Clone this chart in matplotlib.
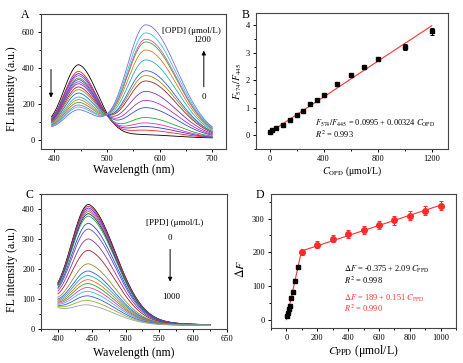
import numpy as np
import matplotlib.pyplot as plt
from matplotlib.ticker import MultipleLocator

plt.rcParams['font.family'] = 'Liberation Serif'
plt.rcParams['mathtext.fontset'] = 'stix'
plt.rcParams['font.size'] = 6

# ---- data ----
# panel A: OPD spectra, peak heights at 445 nm and 574 nm (one entry per curve)
opd_peak445 = [418, 381, 368, 357, 344, 335, 323, 312, 294, 279, 260, 238, 223, 208, 193, 182, 167]
opd_peak574 = [30, 55, 75, 95, 125, 180, 220, 270, 328, 358, 385, 445, 500, 545, 560, 595, 640]
opd_colors = ['#000000', '#ff2020', '#3030e0', '#d030d0', '#30a030', '#3050c0', '#b030c0', '#8030b0',
              '#a02030', '#909020', '#3060d0', '#20b0c0', '#d08020', '#40a040', '#e050a0', '#30c8d8', '#7070e0']

# panel B: ratio vs OPD
opd_conc = [0, 20, 50, 100, 150, 200, 250, 300, 350, 400, 500, 600, 700, 800, 1000, 1200]
ratio = [0.12, 0.19, 0.26, 0.38, 0.56, 0.72, 0.90, 1.13, 1.29, 1.45, 1.86, 2.20, 2.48, 2.77, 3.22, 3.78]
ratio_err = [0.04, 0.04, 0.04, 0.04, 0.05, 0.05, 0.05, 0.05, 0.05, 0.05, 0.07, 0.08, 0.08, 0.08, 0.11, 0.13]

# panel C: PPD spectra, peak heights
ppd_peak = [415, 409, 403, 397, 391, 384, 376, 352, 333, 300, 262, 217, 193, 178, 164, 151, 138, 125, 110, 95, 80]
ppd_colors = ['#000000', '#e02020', '#2a2ae0', '#d030d0', '#808020', '#202080', '#20a040', '#4040c0',
              '#5050d0', '#9030a0', '#a02020', '#909030', '#3060d0', '#20a0c0', '#e07020', '#30a040',
              '#e040a0', '#30c0d0', '#4050e0', '#90b030', '#a0a0a0']

# panel D: delta F vs PPD
ppd_low = [5, 10, 15, 20, 30, 40, 55, 75]
dF_low = [10, 20, 31, 41, 64, 82, 116, 157]
dF_low_err = [3, 3, 3, 3, 4, 4, 5, 6]
ppd_high = [100, 200, 300, 400, 500, 600, 700, 800, 900, 1000]
dF_high = [200, 222, 240, 254, 267, 280, 295, 309, 324, 338]
dF_high_err = [8, 10, 11, 11, 12, 12, 13, 13, 13, 13]


def band(x, c, sl, sr, tail=0.0, tl=50.0):
    d = x - c
    left = np.exp(-d ** 2 / (2 * sl ** 2))
    right = (1 - tail) * np.exp(-d ** 2 / (2 * sr ** 2)) + tail * np.exp(-np.abs(d) / tl)
    return np.where(d < 0, left, right)


def style(ax):
    for s in ax.spines.values():
        s.set_linewidth(0.8)
        s.set_color('#444444')
    ax.tick_params(which='both', direction='out', top=False, right=False, width=0.7,
                   labelsize=6, pad=2)
    ax.tick_params(which='major', length=2.5)
    ax.tick_params(which='minor', length=1.5)


fig = plt.figure(figsize=(4.64, 3.63), dpi=100)

# ---- A ----
ax = fig.add_axes([0.0884, 0.5895, 0.3987, 0.3719])
wl = np.linspace(395, 700, 400)
base = 10 + 30 * np.exp(-(wl - 395) / 20)
for p1, p2, col in zip(opd_peak445, opd_peak574, opd_colors):
    a1 = p1 - 12
    a2 = p2 - 10 - 0.0097 * a1
    y = base + a1 * band(wl, 447, 30, 36, 0.1, 50) + a2 * band(wl, 574, 36.5, 58.7)
    ax.plot(wl, y, color=col, lw=0.6)
ax.set_xlim(375, 726)
ax.set_ylim(-50, 700)
ax.xaxis.set_major_locator(MultipleLocator(100))
ax.xaxis.set_minor_locator(MultipleLocator(50))
ax.yaxis.set_major_locator(MultipleLocator(200))
ax.yaxis.set_minor_locator(MultipleLocator(100))
ax.set_xlabel('Wavelength (nm)', fontsize=8.5)
ax.set_ylabel('FL intensity (a.u.)', fontsize=8.5)
ax.xaxis.set_label_coords(0.5, -0.11)
ax.yaxis.set_label_coords(-0.125, 0.45)
ax.text(0.815, 0.874, '[OPD] (μmol/L)', transform=ax.transAxes, ha='center', va='center', fontsize=6.5)
ax.text(0.87, 0.807, '1200', transform=ax.transAxes, ha='center', va='center', fontsize=6.5)
ax.text(0.88, 0.385, '0', transform=ax.transAxes, ha='center', va='center', fontsize=6.5)
ax.annotate('', xy=(0.88, 0.75), xytext=(0.88, 0.44), xycoords='axes fraction',
            arrowprops=dict(arrowstyle='-|>', lw=0.7, color='k', mutation_scale=6))
ax.annotate('', xy=(0.054, 0.36), xytext=(0.054, 0.61), xycoords='axes fraction',
            arrowprops=dict(arrowstyle='-|>', lw=0.7, color='k', mutation_scale=6))
style(ax)

# ---- B ----
ax = fig.add_axes([0.5517, 0.5895, 0.4138, 0.3747])
xf = np.array([0, 1200])
ax.plot(xf, 0.0995 + 0.00324 * xf, color='#ff3030', lw=0.8, zorder=1)
ax.errorbar(opd_conc, ratio, yerr=ratio_err, fmt='s', color='k', ms=3.5, capsize=1.5,
            elinewidth=0.7, capthick=0.7, zorder=2)
ax.set_xlim(-100, 1320)
ax.set_ylim(-0.5, 4.45)
ax.xaxis.set_major_locator(MultipleLocator(400))
ax.xaxis.set_minor_locator(MultipleLocator(200))
ax.yaxis.set_major_locator(MultipleLocator(1))
ax.yaxis.set_minor_locator(MultipleLocator(0.5))
ax.set_xlabel(r'$C_{\mathrm{OPD}}$ (μmol/L)', fontsize=7)
ax.set_ylabel(r'$F_{574}/F_{445}$', fontsize=7)
ax.xaxis.set_label_coords(0.5, -0.115)
ax.yaxis.set_label_coords(-0.065, 0.5)
ax.text(0.307, 0.19, r'$F_{574}/F_{445}$ = 0.0995 + 0.00324 $C_{\mathrm{OPD}}$', transform=ax.transAxes,
        ha='left', va='center', fontsize=6)
ax.text(0.307, 0.11, r'$R^2$ = 0.993', transform=ax.transAxes, ha='left', va='center', fontsize=6)
style(ax)

# ---- C ----
ax = fig.add_axes([0.0884, 0.0937, 0.4009, 0.3719])
wl = np.linspace(400, 625, 400)
base = 12 + 45 * np.exp(-(wl - 400) / 25)
for pk, col in zip(ppd_peak, ppd_colors):
    y = base + (pk - 19) * band(wl, 446, 27.5, 40, 0.12, 60)
    ax.plot(wl, y, color=col, lw=0.6)
ax.set_xlim(375, 650)
ax.set_ylim(0, 450)
ax.xaxis.set_major_locator(MultipleLocator(50))
ax.xaxis.set_minor_locator(MultipleLocator(25))
ax.yaxis.set_major_locator(MultipleLocator(100))
ax.yaxis.set_minor_locator(MultipleLocator(50))
ax.set_xlabel('Wavelength (nm)', fontsize=8.5)
ax.set_ylabel('FL intensity (a.u.)', fontsize=8.5)
ax.xaxis.set_label_coords(0.5, -0.13)
ax.yaxis.set_label_coords(-0.125, 0.44)
ax.text(0.72, 0.787, '[PPD] (μmol/L)', transform=ax.transAxes, ha='center', va='center', fontsize=6.5)
ax.text(0.694, 0.676, '0', transform=ax.transAxes, ha='center', va='center', fontsize=6.5)
ax.text(0.70, 0.24, '1000', transform=ax.transAxes, ha='center', va='center', fontsize=6.5)
ax.annotate('', xy=(0.694, 0.33), xytext=(0.694, 0.61), xycoords='axes fraction',
            arrowprops=dict(arrowstyle='-|>', lw=0.7, color='k', mutation_scale=6))
style(ax)

# ---- D ----
ax = fig.add_axes([0.5841, 0.0964, 0.3987, 0.3691])
x1 = np.array([0, 100])
x2 = np.array([100, 1000])
ax.plot(x1, -0.375 + 2.09 * x1, color='#ff3030', lw=0.8, zorder=1)
ax.plot(x2, 189 + 0.151 * x2, color='#ff3030', lw=0.8, zorder=1)
ax.errorbar(ppd_low, dF_low, yerr=dF_low_err, fmt='s', color='k', ms=3.5, capsize=1.5,
            elinewidth=0.7, capthick=0.7, zorder=2)
ax.errorbar(ppd_high, dF_high, yerr=dF_high_err, fmt='o', color='#ff2a2a', ms=4, capsize=1.5,
            elinewidth=0.7, capthick=0.7, zorder=2)
ax.set_xlim(-100, 1100)
ax.set_ylim(-25, 373)
ax.xaxis.set_major_locator(MultipleLocator(200))
ax.xaxis.set_minor_locator(MultipleLocator(100))
ax.yaxis.set_major_locator(MultipleLocator(100))
ax.yaxis.set_minor_locator(MultipleLocator(50))
ax.set_xlabel(r'$C_{\mathrm{PPD}}$ (μmol/L)', fontsize=8.5)
ax.set_ylabel(r'$\Delta F$', fontsize=8.5)
ax.xaxis.set_label_coords(0.5, -0.11)
ax.yaxis.set_label_coords(-0.13, 0.44)
ax.text(0.393, 0.438, r'$\Delta F$ = -0.375 + 2.09 $C_{\mathrm{PPD}}$', transform=ax.transAxes,
        ha='left', va='center', fontsize=6)
ax.text(0.393, 0.353, r'$R^2$ = 0.998', transform=ax.transAxes, ha='left', va='center', fontsize=6)
ax.text(0.393, 0.222, r'$\Delta F$ = 189 + 0.151 $C_{\mathrm{PPD}}$', transform=ax.transAxes,
        ha='left', va='center', fontsize=6, color='#ff3030')
ax.text(0.393, 0.147, r'$R^2$ = 0.990', transform=ax.transAxes, ha='left', va='center', fontsize=6,
        color='#ff3030')
style(ax)

# panel letters
fig.text(25.5 / 464, 1 - 15.5 / 363, 'A', ha='center', va='center', fontsize=8.5)
fig.text(246 / 464, 1 - 15.5 / 363, 'B', ha='center', va='center', fontsize=8.5)
fig.text(29 / 464, 1 - 195 / 363, 'C', ha='center', va='center', fontsize=8.5)
fig.text(260 / 464, 1 - 195 / 363, 'D', ha='center', va='center', fontsize=8.5)

fig.savefig('out.png', dpi=100)
